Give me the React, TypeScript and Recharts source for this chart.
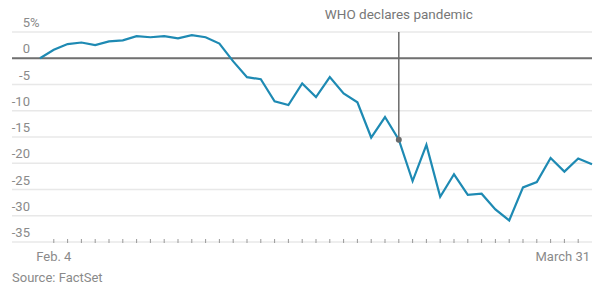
import React from 'react';
import { LineChart, Line, XAxis, YAxis, CartesianGrid, ReferenceLine, ReferenceDot } from 'recharts';

// trading days, Feb 3 - March 31 (Presidents Day closed)
const dates = [
  'Feb 3', 'Feb 4', 'Feb 5', 'Feb 6', 'Feb 7', 'Feb 10', 'Feb 11', 'Feb 12', 'Feb 13', 'Feb 14',
  'Feb 18', 'Feb 19', 'Feb 20', 'Feb 21', 'Feb 24', 'Feb 25', 'Feb 26', 'Feb 27', 'Feb 28',
  'Mar 2', 'Mar 3', 'Mar 4', 'Mar 5', 'Mar 6', 'Mar 9', 'Mar 10', 'Mar 11', 'Mar 12', 'Mar 13',
  'Mar 16', 'Mar 17', 'Mar 18', 'Mar 19', 'Mar 20', 'Mar 23', 'Mar 24', 'Mar 25', 'Mar 26', 'Mar 27',
  'Mar 30', 'Mar 31',
];

// percent change since Feb 3
const change = [
  0, 1.6, 2.7, 3.0, 2.5, 3.2, 3.4, 4.2, 4.0, 4.2,
  3.8, 4.4, 4.0, 2.8, -0.6, -3.6, -4.0, -8.2, -8.9,
  -4.8, -7.4, -3.6, -6.7, -8.4, -15.1, -11.2, -15.5, -23.4, -16.5,
  -26.4, -22.1, -26.0, -25.8, -28.8, -30.9, -24.6, -23.6, -19.0, -21.6,
  -19.1, -20.2,
];

const yTicks = [5, 0, -5, -10, -15, -20, -25, -30, -35];
const xLabels: Record<string, string> = { 'Feb 4': 'Feb. 4', 'Mar 31': 'March 31' };

const whoDate = 'Mar 11';
const whoValue = -15.5;

const data = dates.map((d, i) => ({ date: d, value: change[i] }));

const FONT = 'Roboto, sans-serif';
const GRAY = '#8a8a8a';

// labels sit just above their gridline, right-aligned, with the % hanging off the top one
const YTick = (props: any) => {
  const { y, payload } = props;
  const x = 30;
  return (
    <g>
      <text x={x} y={y - 5} textAnchor="end" fontSize={13} fill={GRAY} fontFamily={FONT}>
        {payload.value}
      </text>
      {payload.value === 5 ? (
        <text x={x} y={y - 5} textAnchor="start" fontSize={13} fill={GRAY} fontFamily={FONT}>
          %
        </text>
      ) : null}
    </g>
  );
};

const XTick = (props: any) => {
  const { x, y, payload, index } = props;
  const last = dates.length - 1;
  const label = xLabels[payload.value];
  return (
    <g>
      {index > 0 && index < last ? <line x1={x} x2={x} y1={y - 3} y2={y + 1} stroke="#999" /> : null}
      {label ? (
        <text
          x={index === last ? x - 2 : x}
          y={y + 19}
          textAnchor={index === last ? 'end' : 'middle'}
          fontSize={13}
          fill={GRAY}
          fontFamily={FONT}
        >
          {label}
        </text>
      ) : null}
    </g>
  );
};

export default function App() {
  return (
    <div style={{ position: 'absolute', left: 0, top: 0, width: 600, height: 296, background: '#fff' }}>
      <LineChart width={600} height={296} data={data} margin={{ top: 32, right: 8, bottom: 0, left: -8 }}>
        <CartesianGrid vertical={false} stroke="#e8e8e8" strokeWidth={1.5} />
        <XAxis
          dataKey="date"
          interval={0}
          axisLine={false}
          tickLine={false}
          tick={<XTick />}
          tickSize={0}
          tickMargin={0}
          padding={{ left: 28, right: 0 }}
          height={54}
        />
        <YAxis
          domain={[-35, 5]}
          ticks={yTicks}
          interval={0}
          width={20}
          axisLine={false}
          tickLine={false}
          tick={<YTick />}
        />
        <ReferenceLine y={0} stroke="#707070" strokeWidth={2} />
        <ReferenceLine
          segment={[{ x: whoDate, y: 5 }, { x: whoDate, y: whoValue }]}
          stroke="#6a6a6a"
          strokeWidth={1.5}
          ifOverflow="visible"
          label={(p: any) => (
            <text
              x={p.viewBox.x}
              y={p.viewBox.y - 13}
              textAnchor="middle"
              fontSize={13.5}
              fill="#777"
              fontFamily={FONT}
            >
              WHO declares pandemic
            </text>
          )}
        />
        <Line
          type="linear"
          dataKey="value"
          stroke="#1e8ab3"
          strokeWidth={2.2}
          dot={false}
          isAnimationActive={false}
        />
        <ReferenceDot x={whoDate} y={whoValue} r={3} fill="#6a6a6a" stroke="none" ifOverflow="visible" />
      </LineChart>
      <div
        style={{
          position: 'absolute',
          left: 12,
          top: 270,
          fontFamily: FONT,
          fontSize: 13,
          color: GRAY,
        }}
      >
        Source: FactSet
      </div>
    </div>
  );
}
